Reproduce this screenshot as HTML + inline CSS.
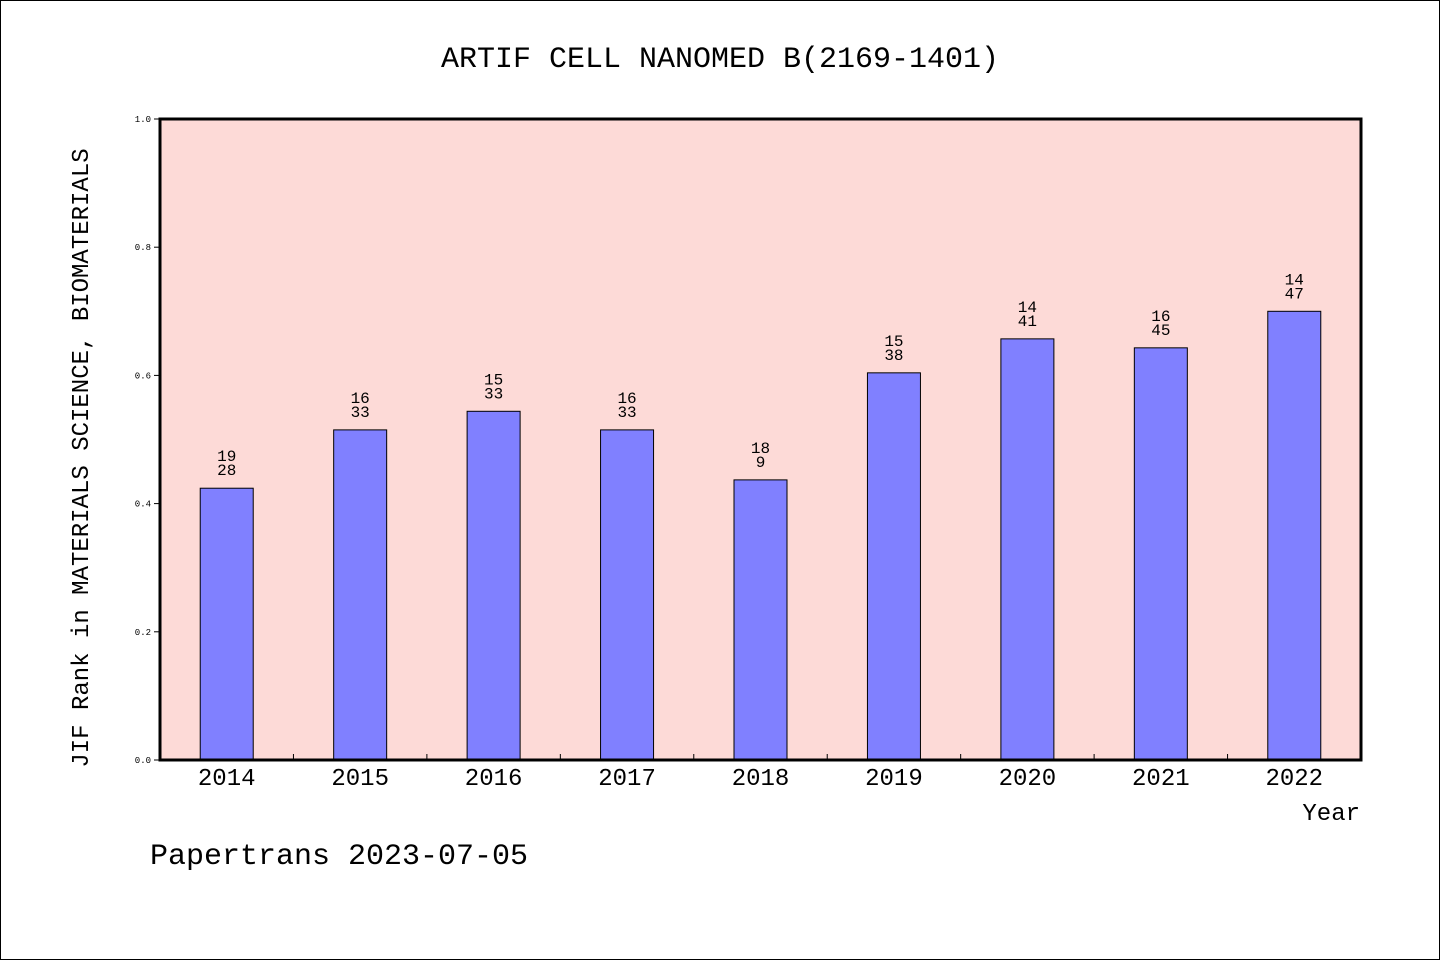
<!DOCTYPE html>
<html><head><meta charset="utf-8"><style>
body{margin:0;background:#fff}
svg{display:block}
text{font-family:"WenQuanYi Zen Hei","Liberation Mono",monospace;fill:#000}
</style></head><body>
<svg width="1440" height="960">
<rect x="0.5" y="0.5" width="1439" height="959" fill="#fff" stroke="#000"/>
<text x="720" y="67" font-size="30" text-anchor="middle">ARTIF CELL NANOMED B(2169-1401)</text>
<rect x="160" y="119" width="1201" height="641" fill="#fddad7"/>
<g id="bars"></g>
<g id="axes"></g>
<rect x="160" y="119" width="1201" height="641" fill="none" stroke="#000" stroke-width="3"/>
<text transform="translate(88,458) rotate(-90)" font-size="24" text-anchor="middle">JIF Rank in MATERIALS SCIENCE, BIOMATERIALS</text>
<text x="1360" y="820" font-size="24" text-anchor="end">Year</text>
<text x="150" y="864" font-size="30">Papertrans 2023-07-05</text>
</svg>
<script>
const categories=["2014","2015","2016","2017","2018","2019","2020","2021","2022"];
const values=[0.424,0.515,0.544,0.515,0.437,0.604,0.657,0.643,0.700];
const ranks=["19","16","15","16","18","15","14","16","14"];
const totals=["28","33","33","33","9","38","41","45","47"];
const yTicks=[0,0.2,0.4,0.6,0.8,1.0];
const X0=160,W=1201,Y0=760,H=641;
const NS="http://www.w3.org/2000/svg";
const bw=W/categories.length;
const xc=i=>X0+bw*(i+0.5);
const y=v=>Y0-v*H;
function mk(t,a,p){const e=document.createElementNS(NS,t);for(const k in a)e.setAttribute(k,a[k]);p.appendChild(e);return e;}
const bars=document.getElementById('bars'),axes=document.getElementById('axes');
categories.forEach((c,i)=>{
 const r=mk('rect',{x:xc(i)-26.5,y:y(values[i]),width:53,height:values[i]*H,fill:'#8080ff',stroke:'#000','stroke-width':1},bars);
 
 
 const t1=mk('text',{x:xc(i),y:y(values[i])-27,'font-size':16,'text-anchor':'middle'},bars);t1.textContent=ranks[i];
 
 
 const t2=mk('text',{x:xc(i),y:y(values[i])-13,'font-size':16,'text-anchor':'middle'},bars);t2.textContent=totals[i];
 
 
 const xl=mk('text',{x:xc(i),y:785,'font-size':24,'text-anchor':'middle'},axes);xl.textContent=c;
 
 
 if(i>0){const tk=mk('line',{x1:X0+bw*i,x2:X0+bw*i,y1:Y0,y2:Y0-6,stroke:'#000'},axes);
 
 }
});
yTicks.forEach(v=>{
 const tk=mk('line',{x1:X0-6,x2:X0,y1:y(v),y2:y(v),stroke:'#000'},axes);
 
 
 const t=mk('text',{x:X0-9,y:y(v)+3,'font-size':9,'text-anchor':'end'},axes);t.textContent=v.toFixed(1);
 
 
});
</script>
</body></html>
